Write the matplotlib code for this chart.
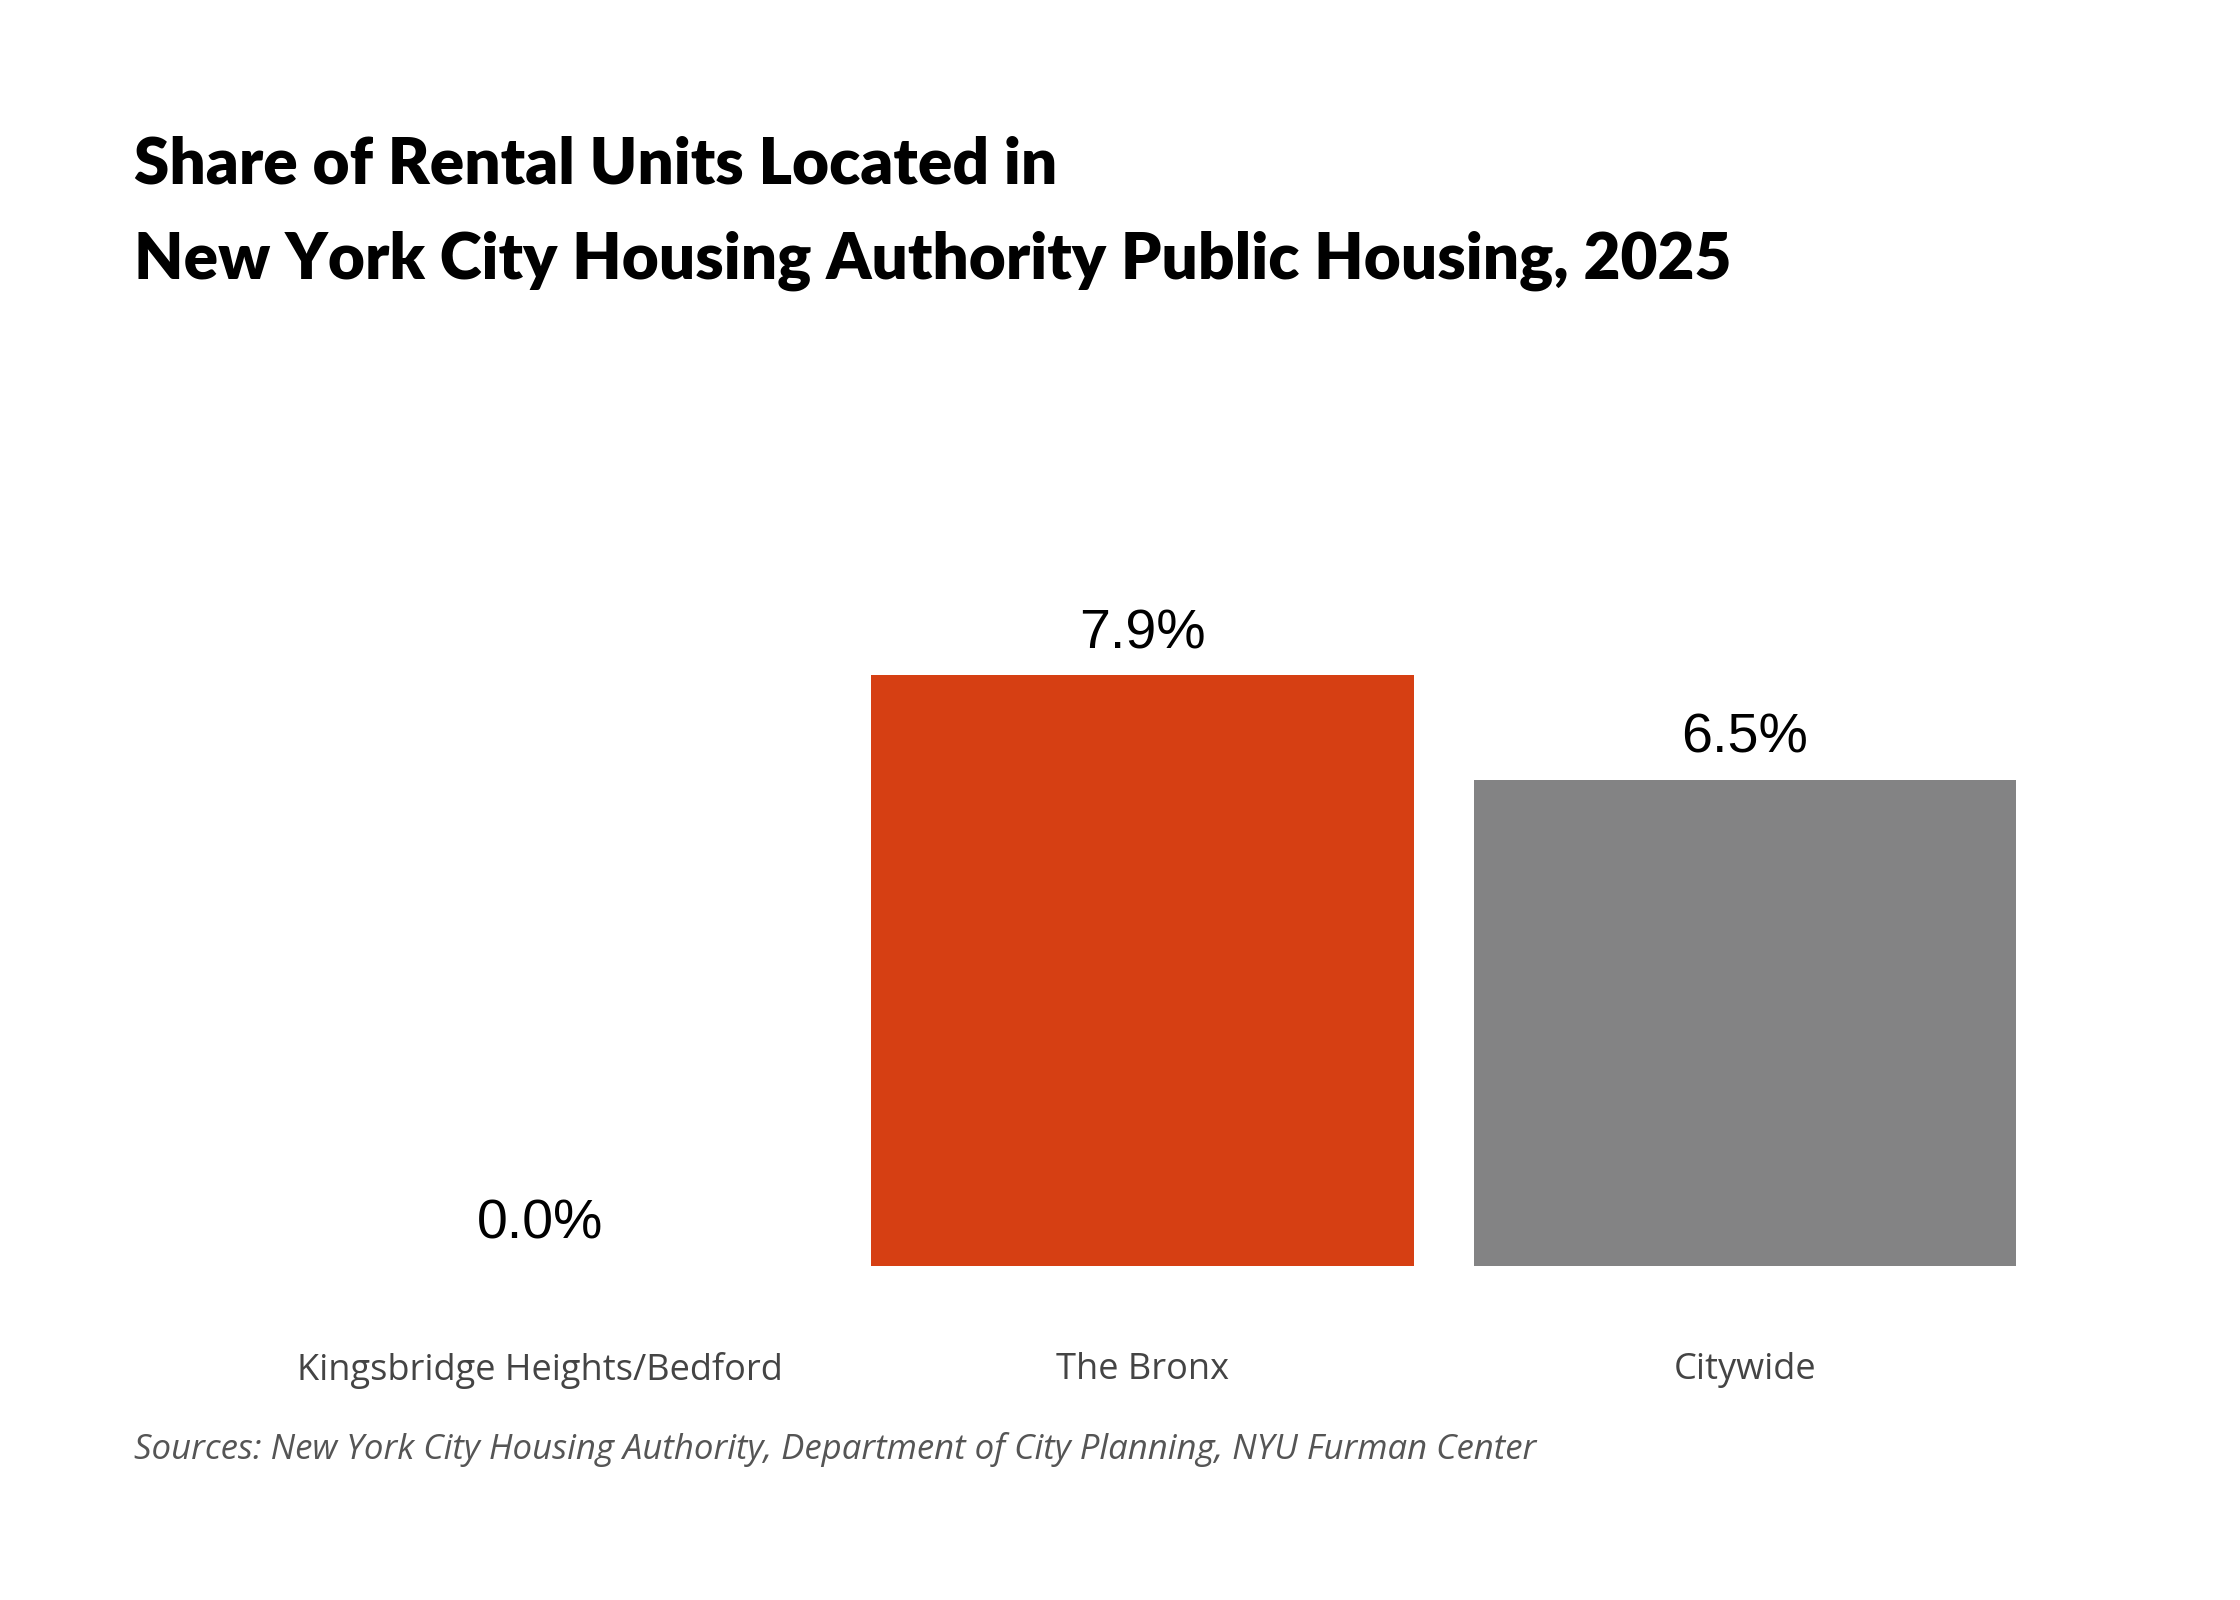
import matplotlib.pyplot as plt

categories = ["Kingsbridge Heights/Bedford", "The Bronx", "Citywide"]
values = [0.0, 7.9, 6.5]
labels = ["0.0%", "7.9%", "6.5%"]
colors = ["#d63f13", "#d63f13", "#838384"]

fig = plt.figure(figsize=(22.4, 16), dpi=100)
ax = fig.add_axes([0.1065, 0.209, 0.807, 0.467])

x = range(len(categories))
ax.bar(x, values, width=0.9, color=colors)
ax.set_xlim(-0.5, 2.5)
ax.set_ylim(0, 10)
for i, (v, lab) in enumerate(zip(values, labels)):
    ax.text(i, v + 0.2, lab, ha="center", va="bottom", fontsize=40,
            family="Liberation Sans", color="black")
ax.set_xticks(list(x))
ax.set_xticklabels(categories, fontsize=26, family="Open Sans", color="#444444")
ax.tick_params(axis="x", length=0, pad=62)
ax.set_yticks([])
for s in ax.spines.values():
    s.set_visible(False)

fig.text(0.06, 0.897, "Share of Rental Units Located in",
         fontsize=46, fontweight="heavy", family="Lato", va="center", ha="left")
fig.text(0.06, 0.837, "New York City Housing Authority Public Housing, 2025",
         fontsize=46, fontweight="heavy", family="Lato", va="center", ha="left")
fig.text(0.06, 0.094, "Sources: New York City Housing Authority, Department of City Planning, NYU Furman Center",
         fontsize=25, style="italic", family="Open Sans", color="#555555", ha="left", va="center")

fig.savefig("out.png", dpi=100, facecolor="white")
